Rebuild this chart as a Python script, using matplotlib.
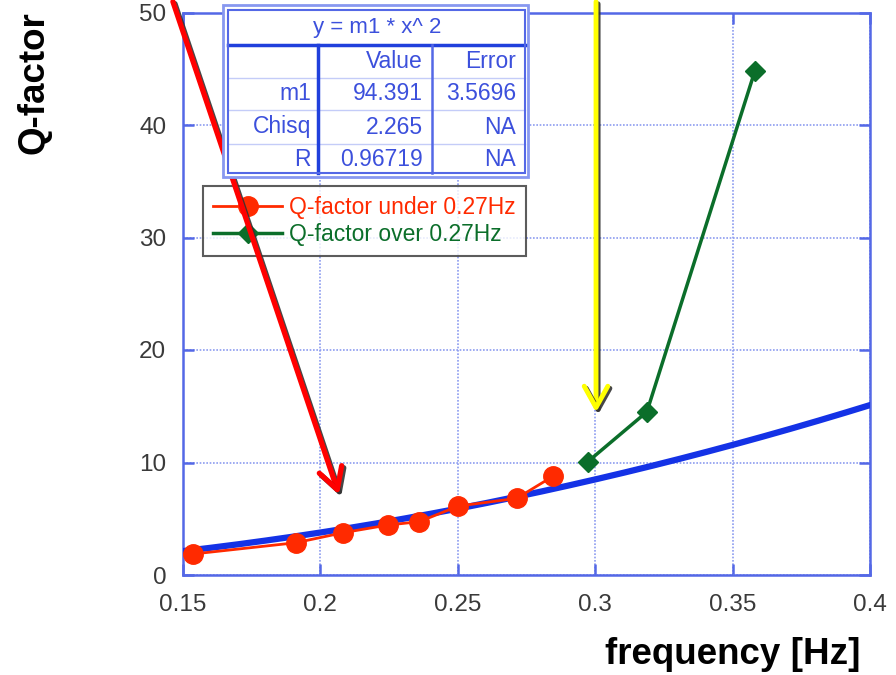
import numpy as np
import matplotlib
matplotlib.use("Agg")
from matplotlib import pyplot as plt
from matplotlib.patches import Rectangle
from matplotlib.lines import Line2D
from matplotlib.transforms import Affine2D
import matplotlib.patheffects as pe

plt.rcParams['font.family'] = ['Liberation Sans', 'DejaVu Sans']

# measured Q-factor
freq_under = [0.1538, 0.1911, 0.2083, 0.2245, 0.2360, 0.2502, 0.2714, 0.2848]
q_under = [1.87, 2.87, 3.76, 4.44, 4.74, 6.13, 6.81, 8.80]
freq_over = [0.2973, 0.3188, 0.3581]
q_over = [10.07, 14.5, 44.8]

# fit result y = m1 * x^2
fit_m1 = 94.391
fit_table = [["", "Value", "Error"],
             ["m1", "94.391", "3.5696"],
             ["Chisq", "2.265", "NA"],
             ["R", "0.96719", "NA"]]

xticks = [0.15, 0.2, 0.25, 0.3, 0.35, 0.4]
xticklabels = ["0.15", "0.2", "0.25", "0.3", "0.35", "0.4"]
yticks = [0, 10, 20, 30, 40, 50]

frame_blue = "#5468e6"
grid_blue = "#8c9cf0"
txt_blue = "#3c50dc"
red = "#ff2a00"
green = "#0b6e2a"

W, H = 896, 675
fig = plt.figure(figsize=(W / 100, H / 100), dpi=100)
ax = fig.add_axes([183 / W, 1 - 575 / H, 687 / W, 562.5 / H])
# pixel coordinates on the figure, origin top-left
pix = Affine2D().scale(1 / W, -1 / H).translate(0, 1) + fig.transFigure

xf = np.linspace(0.15, 0.4, 200)
ax.plot(xf, fit_m1 * xf ** 2, color="#1432e6", lw=4.5, zorder=3)
ax.plot(freq_under, q_under, color=red, lw=2, marker="o", ms=14,
        label="Q-factor under 0.27Hz", zorder=4)
ax.plot(freq_over, q_over, color=green, lw=2.5, marker="D", ms=10.5,
        label="Q-factor over 0.27Hz", zorder=4)

ax.set_xlim(0.15, 0.4)
ax.set_ylim(0, 50)
ax.set_xticks(xticks)
ax.set_xticklabels(xticklabels)
ax.set_yticks(yticks)
ax.grid(True, color=grid_blue, ls=(0, (1, 1)), lw=1.2)
for s in ax.spines.values():
    s.set_color(frame_blue)
    s.set_linewidth(1.8)
ax.tick_params(direction="in", length=8, width=1.8, color=frame_blue,
               top=True, right=True, labelsize=17.5, labelcolor="#3a3a3a")
ax.tick_params(axis="x", pad=14)
ax.tick_params(axis="y", pad=12)

fig.text(34 / W, 1 - 83 / H, "Q-factor", rotation=90, fontsize=26.5,
         fontweight="bold", ha="center", va="center")
fig.text(860 / W, 1 - 655 / H, "frequency [Hz]", fontsize=26.5,
         fontweight="bold", ha="right", va="center")

# legend
leg = ax.legend(loc="upper left", bbox_to_anchor=(203 / W, 1 - 186 / H),
                bbox_transform=fig.transFigure, fontsize=16.5, frameon=True,
                fancybox=False, edgecolor="#333333", handlelength=3.0,
                borderaxespad=0, borderpad=0.45, labelspacing=0.15,
                handletextpad=0.3)
leg.get_frame().set_linewidth(1.5)
for t, c in zip(leg.get_texts(), [red, green]):
    t.set_color(c)
leg.set_zorder(6)

# fit results table
fig.patches.append(Rectangle((223, 5), 305, 172, transform=pix, fc="white",
                             ec="#8898f0", lw=2, zorder=7))
fig.patches.append(Rectangle((228, 10), 297, 163, transform=pix, fc="none",
                             ec=frame_blue, lw=1.5, zorder=8))
fig.lines.append(Line2D([228, 525], [45, 45], transform=pix, color="#2040dc", lw=2.5, zorder=8))
for yy in [78, 110, 144]:
    fig.lines.append(Line2D([228, 525], [yy, yy], transform=pix, color="#c4ccf8", lw=1, zorder=8))
fig.lines.append(Line2D([318, 318], [45, 173], transform=pix, color="#2040dc", lw=2.5, zorder=8))
fig.lines.append(Line2D([432, 432], [45, 173], transform=pix, color=frame_blue, lw=1.8, zorder=8))
fig.text(377 / W, 1 - 27 / H, "y = m1 * x^ 2", fontsize=16, color=txt_blue,
         ha="center", va="center", zorder=9)
col_right = [311, 423, 516]
row_mid = [61, 94, 127, 159]
for row, yy in zip(fit_table, row_mid):
    for cell, xx in zip(row, col_right):
        fig.text(xx / W, 1 - yy / H, cell, fontsize=16.5, color=txt_blue,
                 ha="right", va="center", zorder=9)

# annotation arrows
shadow = [pe.SimpleLineShadow(offset=(1.5, -1.5), shadow_color="#333333", alpha=0.9), pe.Normal()]
ax.annotate("", xy=(0.2071, 6.9), xytext=(0.146, 51.2), annotation_clip=False,
            arrowprops=dict(arrowstyle="->,head_length=0.9,head_width=0.5",
                            color="#ff0000", lw=3.8, mutation_scale=17,
                            path_effects=shadow),
            zorder=10)
ax.annotate("", xy=(0.3003, 14.2), xytext=(0.3003, 51.2), annotation_clip=False,
            arrowprops=dict(arrowstyle="->,head_length=0.9,head_width=0.5",
                            color="#ffff00", lw=3.5, mutation_scale=17,
                            path_effects=shadow),
            zorder=10)

fig.savefig("out.png", dpi=100)
